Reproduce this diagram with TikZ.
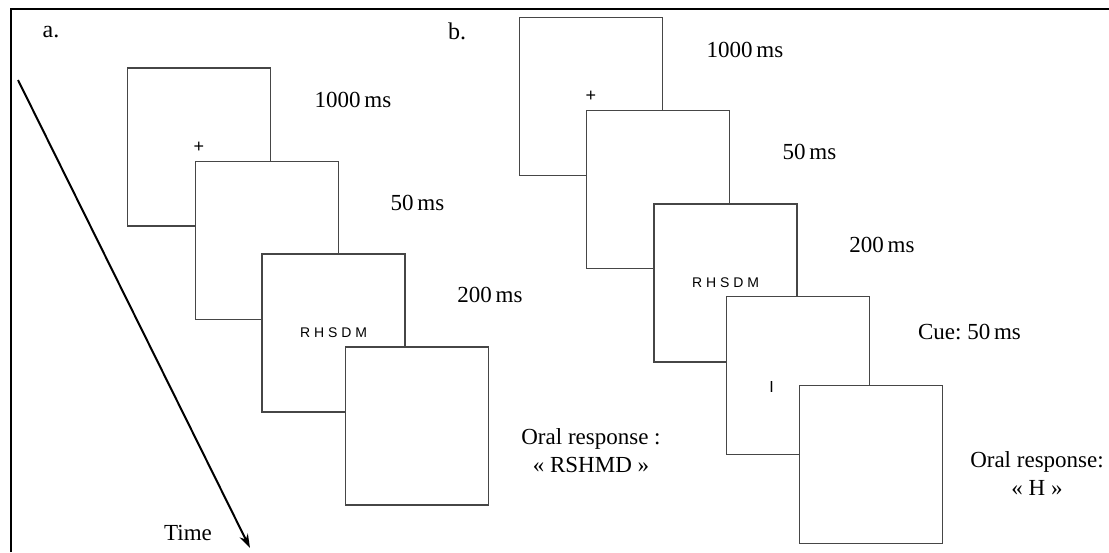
\documentclass[tikz,border=0pt]{standalone}
\usepackage{fontspec}
\setmainfont{Liberation Serif}
\setsansfont{Liberation Sans}
\usetikzlibrary{arrows.meta,positioning}
\definecolor{screengray}{RGB}{70,70,70}

\begin{document}
\begin{tikzpicture}[
    x=1pt, y=-1pt,
    screen/.style={rectangle, draw=screengray, line width=1.3pt, fill=white, minimum width=143pt, minimum height=158pt, inner sep=0pt, font=\sffamily\fontsize{14}{16}\selectfont},
    dur/.style={font=\fontsize{23}{28}\selectfont, align=center, inner sep=0pt},
    panel/.style={font=\fontsize{24}{26}\selectfont, inner sep=0pt},
    timeline/.style={line width=2pt, -{Stealth[length=14pt, width=9pt]}}
]
    \useasboundingbox (0,0) rectangle (1109,552);
    \draw[line width=2pt] (11,552) |- (1109,9);

    % Panel a
    \node[panel] (pa) at (51,32) {a.};
    \node[screen, font=\sffamily\fontsize{18}{20}\selectfont] (a1) at (199,147) {+};
    \node[screen] (a2) at (266.7,240.5) {};
    \node[screen] (a3) at (333.5,333) {R H S D M};
    \node[screen] (a4) at (417.3,426) {};

    \node[dur] (ta1) at (353,100) {1000\,ms};
    \node[dur] (ta2) at (417.5,203) {50\,ms};
    \node[dur] (ta3) at (490,295) {200\,ms};
    \node[dur] (ta4) at (591,451) {Oral response :\\« RSHMD »};

    % Time axis
    \coordinate (tstart) at (18,80);
    \coordinate (tend) at (250,548);
    \draw[timeline] (tstart) -- (tend);
    \node[dur] (time) at (188,533) {Time};

    % Panel b
    \node[panel] (pb) at (457,31) {b.};
    \node[screen, font=\sffamily\fontsize{18}{20}\selectfont] (b1) at (591,96.5) {+};
    \node[screen] (b2) at (658,189.5) {};
    \node[screen] (b3) at (725.5,283) {R H S D M};
    \node[screen] (b4) at (798,375.5) {};
    \node[font=\sffamily\fontsize{16}{18}\selectfont, inner sep=0pt] (cue) at (771.7,386.7) {I};
    \node[screen] (b5) at (871.3,464.7) {};

    \node[dur] (tb1) at (745,50) {1000\,ms};
    \node[dur] (tb2) at (809.5,152) {50\,ms};
    \node[dur] (tb3) at (882,245) {200\,ms};
    \node[dur] (tb4) at (969.5,332) {Cue:\ 50\,ms};
    \node[dur] (tb5) at (1037,474) {Oral response:\\« H »};
\end{tikzpicture}
\end{document}
